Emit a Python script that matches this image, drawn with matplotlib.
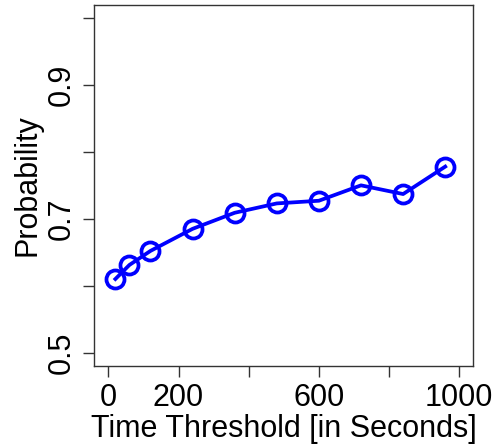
import matplotlib
matplotlib.use("Agg")
import matplotlib.pyplot as plt

# Data
thresholds = [20, 60, 120, 240, 360, 480, 600, 720, 840, 960]
probability = [0.610, 0.631, 0.652, 0.685, 0.709, 0.723, 0.727, 0.750, 0.737, 0.778]

x_ticks = [0, 200, 400, 600, 800, 1000]
x_tick_labels = ["0", "200", "", "600", "", "1000"]
y_ticks = [0.5, 0.6, 0.7, 0.8, 0.9, 1.0]
y_tick_labels = ["0.5", "", "0.7", "", "0.9", ""]

plt.rcParams["font.family"] = ["Liberation Sans", "DejaVu Sans"]

fig = plt.figure(figsize=(4.98, 4.44), dpi=100)
ax = fig.add_axes([0.1894, 0.1757, 0.7610, 0.8137])

ax.plot(thresholds, probability, color="#0000ff", linewidth=2.7,
        marker="o", markersize=13, markerfacecolor="none",
        markeredgewidth=2.7, markeredgecolor="#0000ff")

# R-style 4% padding around the limits
ax.set_xlim(0 - 40, 1000 + 40)
ax.set_ylim(0.5 - 0.02, 1.0 + 0.02)

ax.set_xticks(x_ticks)
ax.set_xticklabels(x_tick_labels, fontsize=22)
ax.set_yticks(y_ticks)
ax.set_yticklabels(y_tick_labels, fontsize=22, rotation=90, va="center")

ax.tick_params(axis="both", length=8, width=1, color="#333333")
ax.tick_params(axis="x", pad=4)
ax.tick_params(axis="y", pad=5)

for spine in ax.spines.values():
    spine.set_linewidth(1)
    spine.set_color("#333333")

ax.set_xlabel("Time Threshold [in Seconds]", fontsize=22, labelpad=1)
ax.set_ylabel("Probability", fontsize=22, labelpad=3)

fig.savefig("out.png", dpi=100)
